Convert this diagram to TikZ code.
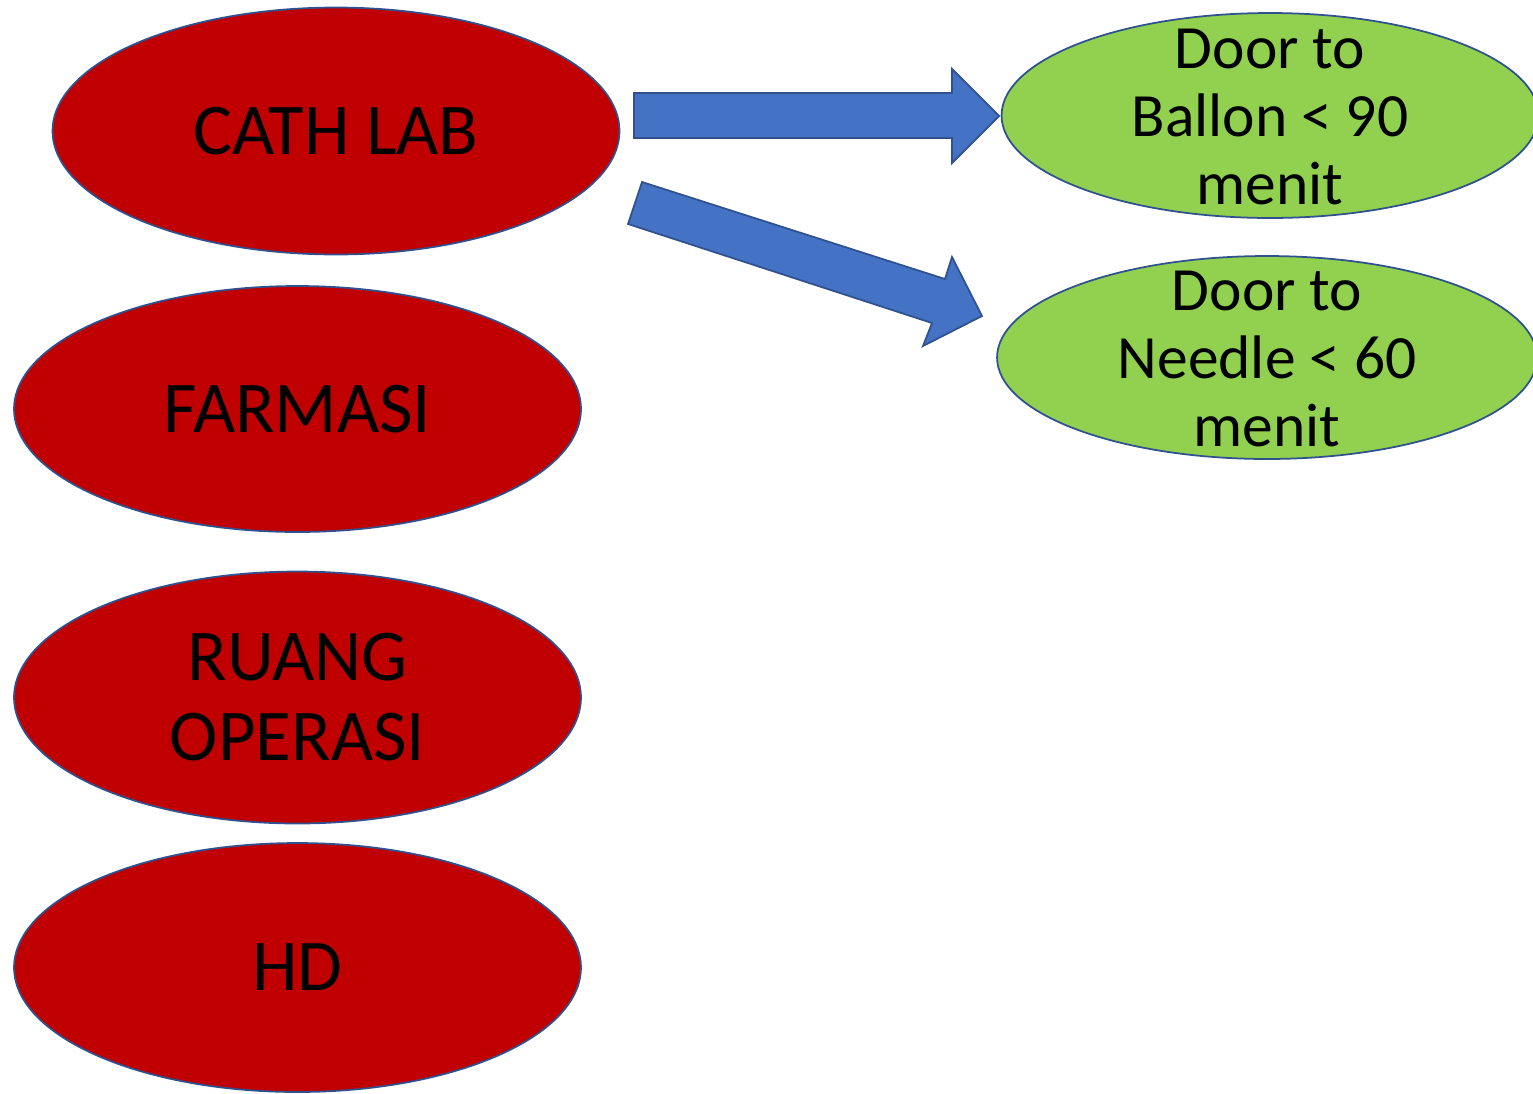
\documentclass[tikz,border=0pt]{standalone}
\usepackage{fontspec}
\setmainfont{Carlito}
\usetikzlibrary{shapes.geometric}

\definecolor{unitred}{HTML}{C00000}
\definecolor{goalgreen}{HTML}{92D050}
\definecolor{arrowblue}{HTML}{4472C4}
\definecolor{edgeblue}{HTML}{2F528F}

\newcommand{\ctext}[2][-.25em]{\smash{\raisebox{#1}{\begin{tabular}{@{}c@{}}#2\end{tabular}}}}

\tikzset{
	unit/.style={ellipse, draw=edgeblue, line width=1pt, fill=unitred, inner sep=0pt,
		minimum width=11.34cm, minimum height=4.94cm, font=\fontsize{41.5}{45.4}\selectfont},
	goal/.style={ellipse, draw=edgeblue, line width=1pt, fill=goalgreen, inner sep=0pt,
		minimum width=10.74cm, minimum height=4.1cm, font=\fontsize{35}{38.5}\selectfont},
	blockarrow/.style={draw=edgeblue, line width=1pt, fill=arrowblue, line join=miter}
}

\begin{document}
\begin{tikzpicture}[x=0.02cm,y=-0.02cm]
	\useasboundingbox (0,0) rectangle (1533,1093);
	% units
	\node[unit] (cath) at (336,131) {\ctext{CATH LAB}};
	\node[unit, minimum height=4.92cm] (farmasi) at (297.5,409) {\ctext{FARMASI}};
	\node[unit, minimum height=5.04cm] (ruang) at (297.5,697.5) {\ctext{RUANG\\OPERASI}};
	\node[unit, minimum height=4.98cm] (hd) at (297.5,967.5) {\ctext{HD}};
	% targets
	\node[goal] (ballon) at (1270,115.5) {\ctext[-.3em]{Door to\\Ballon < 90\\menit}};
	\node[goal, minimum width=10.8cm, minimum height=4.06cm] (needle) at (1267,357.5) {\ctext[-.3em]{Door to\\Needle < 60\\menit}};
	% block arrows
	\draw[blockarrow] (634,93)--(952,93)--(952,69)--(999,116)--(952,163)--(952,138)--(634,138)--cycle;
	\draw[blockarrow] (642,182)--(945,279)--(952,257)--(982,316)--(923,346)--(932,323)--(628,224)--cycle;
\end{tikzpicture}
\end{document}
